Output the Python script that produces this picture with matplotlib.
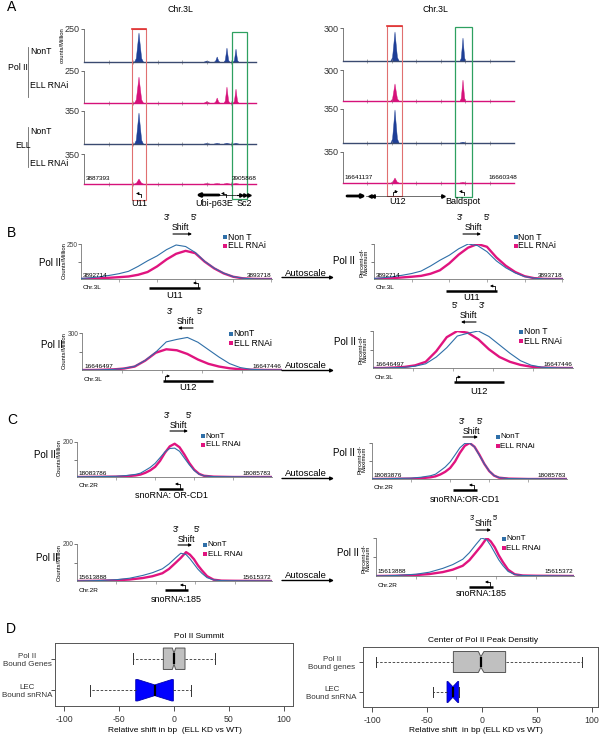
import numpy as np
import matplotlib
matplotlib.use('Agg')
import matplotlib.pyplot as plt
from matplotlib.patches import Rectangle

plt.rcParams['font.family'] = ['Liberation Sans', 'DejaVu Sans']

W, H = 602, 739
BLUE_FILL = '#1f3f96'
PINK_FILL = '#d6117a'
BLUE_LINE = '#2f6fa8'
PINK_LINE = '#e0147f'

# ---------------- Panel A data ----------------
a_left_range = [3887393, 3905868]
a_left_peaks = [3893300, 3900600, 3901700, 3902750, 3903720]
a_left_halfw = [480, 280, 300, 300, 280]
a_left_polII_nont = [220, 8, 38, 106, 98]
a_left_polII_ell = [203, 12, 39, 125, 109]
a_left_ell_nont = [329, 3, 4, 6, 5]
a_left_ell_ell = [58, 2, 2, 4, 3]
a_left_ymax = [250, 250, 350, 350]

a_right_range = [16641137, 16660348]
a_right_peaks = [16646979, 16654618]
a_right_halfw = [460, 320]
a_right_polII_nont = [264, 209]
a_right_polII_ell = [165, 203]
a_right_ell_nont = [340, 6]
a_right_ell_ell = [56, 3]
a_right_ymax = [300, 300, 350, 350]

# ---------------- Panel B / C data ----------------
u11_start = 3892714
u11_offsets = [0, 50, 100, 150, 200, 250, 300, 350, 400, 450, 500, 550, 600, 650,
               700, 750, 800, 850, 900, 950, 1004]
u11_nont = [4, 9, 16, 26, 38, 55, 90, 130, 165, 210, 243, 232, 190, 126, 78, 42, 17, 6, 1, 0, 0]
u11_ell = [0, 2, 5, 9, 13, 18, 30, 50, 90, 140, 180, 201, 185, 124, 76, 40, 16, 5, 1, 0, 0]
u11_labels = ['3892714', '3893718']

u12_start = 16646497
u12_offsets = [0, 50, 100, 150, 200, 250, 300, 350, 400, 450, 500, 550, 600, 650,
               700, 750, 800, 850, 900, 949]
u12_nont = [0, 0, 2, 5, 13, 30, 78, 145, 228, 248, 264, 225, 165, 105, 52, 20, 6, 2, 0, 0]
u12_ell = [0, 0, 2, 5, 12, 28, 76, 140, 168, 160, 130, 85, 50, 28, 14, 6, 2, 1, 0, 0]
u12_labels = ['16646497', '16647446']

orcd1_start = 18083786
orcd1_offsets = [0, 200, 400, 500, 600, 650, 700, 750, 800, 850, 900, 950, 1000, 1050,
                 1100, 1150, 1200, 1250, 1300, 1400, 1600, 1997]
orcd1_nont = [1, 2, 4, 8, 15, 22, 38, 55, 78, 110, 143, 163, 165, 147, 108, 70, 37, 16, 7, 2, 1, 0]
orcd1_ell = [0, 1, 2, 4, 9, 14, 24, 38, 58, 92, 138, 175, 190, 170, 128, 80, 42, 18, 7, 2, 0, 0]
orcd1_labels_l = ['18083786', '18085783']
orcd1_labels_r = ['18083876', '18085783']

s185_start = 15613888
s185_offsets = [0, 150, 300, 400, 500, 575, 650, 700, 750, 790, 830, 860, 890, 920, 950,
                990, 1040, 1100, 1200, 1484]
s185_nont = [0, 2, 7, 15, 30, 45, 66, 92, 125, 150, 143, 120, 92, 64, 42, 18, 6, 2, 1, 0]
s185_ell = [0, 1, 4, 8, 16, 26, 42, 65, 98, 125, 156, 142, 118, 85, 58, 26, 7, 2, 1, 0]
s185_labels = ['15613888', '15615372']

# ---------------- Panel D data ----------------
# whislo, q1, med, q3, whishi, cilo, cihi
summit_polII = [-37, -9.7, 0, 10, 37, -1.5, 1.5]
summit_lec = [-76.6, -34.8, -17.5, -0.6, 15.5, -33, -2]
center_polII = [-96.4, -26, -1, 21.5, 91, -3.3, 1.8]
center_lec = [-44.8, -31.8, -26.5, -21.2, -21.2, -31, -22]
d_xticks = [-100, -50, 0, 50, 100]

fig = plt.figure(figsize=(W / 100, H / 100), dpi=100)


def px_axes(x0, y0, x1, y1):
    ax = fig.add_axes([x0 / W, 1 - y1 / H, (x1 - x0) / W, (y1 - y0) / H])
    ax.patch.set_alpha(0)
    return ax


ov = fig.add_axes([0, 0, 1, 1], zorder=10)
ov.set_xlim(0, W)
ov.set_ylim(H, 0)
ov.axis('off')
ov.patch.set_alpha(0)


def T(x, y, s, fs=6.3, ha='center', va='center', **kw):
    ov.text(x, y, s, fontsize=fs, ha=ha, va=va, **kw)


# ---------------- Panel A ----------------
PEAK_X = [-1, -0.6, -0.3, 0, 0.3, 0.6, 1]
PEAK_Y = [0, 0.12, 0.55, 1, 0.55, 0.12, 0]


def draw_track(x0, x1, y0, y1, xr, centers, halfw, heights, ymax, fill, base):
    ax = px_axes(x0, y0, x1, y1)
    for c, w, h in zip(centers, halfw, heights):
        ax.fill([c + f * w for f in PEAK_X], [h * f for f in PEAK_Y], color=fill, lw=0.3,
                ec=fill)
    ax.set_xlim(*xr)
    ax.set_ylim(0, ymax)
    for s in ['top', 'right']:
        ax.spines[s].set_visible(False)
    ax.spines['left'].set_color('#666666')
    ax.spines['left'].set_linewidth(0.6)
    ax.spines['bottom'].set_color(base)
    ax.spines['bottom'].set_linewidth(1.0)
    ax.set_yticks([ymax])
    ax.set_yticklabels([str(ymax)])
    ax.tick_params(axis='y', length=2, width=0.5, labelsize=6.5, pad=1, colors='#333333')
    ax.set_xticks(np.linspace(xr[0], xr[1], 8)[1:-1])
    ax.set_xticklabels([])
    ax.tick_params(axis='x', length=3, width=0.5, direction='inout', color='#888888')
    return ax


left_rows = [(29, 62), (71, 103), (111, 144), (154, 184)]
right_rows = [(28, 61), (70, 101), (109, 143), (152, 183)]
left_sets = [a_left_polII_nont, a_left_polII_ell, a_left_ell_nont, a_left_ell_ell]
right_sets = [a_right_polII_nont, a_right_polII_ell, a_right_ell_nont, a_right_ell_ell]
fills = [BLUE_FILL, PINK_FILL, BLUE_FILL, PINK_FILL]
bases = ['#3a4a70', PINK_FILL, '#3a4a70', PINK_FILL]
for i in range(4):
    draw_track(84, 256, left_rows[i][0], left_rows[i][1], a_left_range, a_left_peaks,
               a_left_halfw, left_sets[i], a_left_ymax[i], fills[i], bases[i])
    draw_track(343, 514, right_rows[i][0], right_rows[i][1], a_right_range, a_right_peaks,
               a_right_halfw, right_sets[i], a_right_ymax[i], fills[i], bases[i])

T(12, 7, 'A', fs=10)
T(180, 9, 'Chr.3L', fs=6.3)
T(435, 9, 'Chr.3L', fs=6.3)
T(62, 45, 'counts/Million', fs=4.2, rotation=90)
T(30, 51, 'NonT', ha='left')
T(30, 85, 'ELL RNAi', ha='left')
T(8, 68, 'Pol II', ha='left')
T(30, 131, 'NonT', ha='left')
T(30, 164, 'ELL RNAi', ha='left')
T(15, 146, 'ELL', ha='left')
ov.plot([28, 28], [47, 97], color='#666666', lw=0.6)
ov.plot([28, 28], [127, 167], color='#666666', lw=0.6)
T(86, 181, '3887393', fs=4.6, ha='left', va='bottom')
T(257, 181, '3905868', fs=4.6, ha='right', va='bottom')
T(344, 180, '16641137', fs=4.6, ha='left', va='bottom')
T(517, 180, '16660348', fs=4.6, ha='right', va='bottom')

# highlight boxes
ov.add_patch(Rectangle((132, 29), 14, 171, fill=False, ec='#e07070', lw=0.8))
ov.plot([132, 146], [29, 29], color='#e03030', lw=1.2)
ov.add_patch(Rectangle((232, 32), 15, 167, fill=False, ec='#2ea060', lw=0.9))
ov.add_patch(Rectangle((387, 26), 15, 170, fill=False, ec='#e07070', lw=0.8))
ov.plot([387, 402], [26, 26], color='#e03030', lw=1.2)
ov.add_patch(Rectangle((455, 27), 17, 170, fill=False, ec='#2ea060', lw=0.9))


def bent(x, y, d, h=3.5, lw=0.6):
    ov.plot([x, x, x + d * 3], [y, y - h, y - h], color='k', lw=lw)
    ov.annotate('', xy=(x + d * 5, y - h), xytext=(x + d * 2, y - h),
                arrowprops=dict(arrowstyle='-|>', lw=lw, color='k', mutation_scale=3.5,
                                shrinkA=0, shrinkB=0))


# gene annotation A left
bent(141, 197, -1)
ov.annotate('', xy=(196, 195), xytext=(219, 195),
            arrowprops=dict(arrowstyle='-|>', lw=2.0, color='k', mutation_scale=5,
                            shrinkA=0, shrinkB=0))
ov.plot([219, 236], [195, 195], color='k', lw=0.5)
bent(226, 197, -1)
ov.plot([237, 250], [195, 195], color='k', lw=0.8)
ov.plot([241, 245, 249], [195, 195, 195], ls='none', marker='>', ms=2.5, color='k')
T(139, 204, 'U11', fs=6.5)
T(214, 204, 'Ubi-p63E', fs=6.5)
T(244, 204, 'Sc2', fs=6.5)
# gene annotation A right
ov.annotate('', xy=(366, 196), xytext=(347, 196),
            arrowprops=dict(arrowstyle='-|>', lw=2.0, color='k', mutation_scale=5,
                            shrinkA=0, shrinkB=0))
ov.plot([366, 443], [196, 196], color='k', lw=0.4)
ov.plot([370, 373], [196, 196], ls='none', marker='<', ms=2.5, color='k')
ov.plot([443], [196], ls='none', marker='>', ms=2.5, color='k')
bent(393, 195, 1)
bent(464, 195, -1)
T(398, 202, 'U12', fs=6.5)
T(463, 202, 'Baldspot', fs=6.5)


# ---------------- Panels B / C ----------------
def draw_profile(x0, y0, x1, y1, start, offsets, nont, ell, ymax, percent, labels,
                 chrom, tickstep):
    ax = px_axes(x0, y0, x1, y1)
    xs = [start + o for o in offsets]
    b = np.array(nont, float)
    p = np.array(ell, float)
    if percent:
        b = 100 * b / b.max()
        p = 100 * p / p.max()
    ax.plot(xs, b, color=BLUE_LINE, lw=0.8, zorder=3)
    ax.plot(xs, p, color=PINK_LINE, lw=1.7, zorder=2)
    ax.set_xlim(start, start + offsets[-1])
    ax.set_ylim(0, ymax)
    for s in ['top', 'right']:
        ax.spines[s].set_visible(False)
    for s in ['left', 'bottom']:
        ax.spines[s].set_color('#777777')
        ax.spines[s].set_linewidth(0.6)
    if percent:
        ax.set_yticks([50, 100])
        ax.set_yticklabels([])
    else:
        ax.set_yticks([ymax / 2, ymax])
        ax.set_yticklabels(['', str(ymax)])
    ax.tick_params(axis='y', length=2, width=0.5, labelsize=4.8, pad=0.5, colors='#444444')
    ax.set_xticks(np.arange(start + tickstep, start + offsets[-1], tickstep))
    ax.set_xticklabels([])
    ax.tick_params(axis='x', length=2.5, width=0.5, color='#888888')
    ax.text(0.01, 0.04, labels[0], transform=ax.transAxes, fontsize=4.6, ha='left', va='bottom')
    ax.text(0.995, 0.04, labels[1], transform=ax.transAxes, fontsize=4.6, ha='right', va='bottom')
    ax.text(0.01, -0.18, chrom, transform=ax.transAxes, fontsize=4.6, ha='left', va='top')
    return ax


def legend(x, y1, y2, t1, t2, fs=6.2):
    for yy, tt, cc in [(y1, t1, BLUE_LINE), (y2, t2, PINK_LINE)]:
        ov.add_patch(Rectangle((x - 1.8, yy - 1.6), 3.4, 3.4, color=cc, lw=0))
        T(x + 2.5, yy, tt, fs=fs, ha='left')


def shift(xa, xb, y, left, right, ax_from, ax_to, fs=6.3):
    T(xa, y, left, fs=fs)
    T(xb, y, right, fs=fs)
    T((xa + xb) / 2, y + 10, 'Shift', fs=fs)
    ov.annotate('', xy=(ax_to, y + 16), xytext=(ax_from, y + 16),
                arrowprops=dict(arrowstyle='-|>', lw=0.8, color='k', mutation_scale=4,
                                shrinkA=0, shrinkB=0))


def gene(x0, x1, y, label, ly, arrow_x, d, fs=6.8):
    ov.plot([x0, x1], [y, y], color='k', lw=1.8, solid_capstyle='butt')
    bent(arrow_x, y - 1.5, d)
    T((x0 + x1) / 2, ly, label, fs=fs)


def autoscale(y):
    T(306, y - 3, 'Autoscale', fs=6.8)
    ov.annotate('', xy=(334, y + 1.5), xytext=(282, y + 1.5),
                arrowprops=dict(arrowstyle='-|>', lw=1.0, color='k', mutation_scale=5,
                                shrinkA=0, shrinkB=0))


T(12, 233, 'B', fs=10)
T(12, 420, 'C', fs=10)

# B top
draw_profile(81, 244, 272, 279, u11_start, u11_offsets, u11_nont, u11_ell, 250, False,
             u11_labels, 'Chr.3L', 200)
draw_profile(374, 244, 563, 279, u11_start, u11_offsets, u11_nont, u11_ell, 100, True,
             u11_labels, 'Chr.3L', 200)
# B bottom
draw_profile(82, 333, 282, 370, u12_start, u12_offsets, u12_nont, u12_ell, 300, False,
             u12_labels, 'Chr.3L', 190)
draw_profile(373, 331, 573, 368, u12_start, u12_offsets, u12_nont, u12_ell, 100, True,
             u12_labels, 'Chr.3L', 190)
# C top
draw_profile(77, 442, 272, 477, orcd1_start, orcd1_offsets, orcd1_nont, orcd1_ell, 200, False,
             orcd1_labels_l, 'Chr.2R', 400)
draw_profile(372, 443, 567, 479, orcd1_start, orcd1_offsets, orcd1_nont, orcd1_ell, 100, True,
             orcd1_labels_r, 'Chr.2R', 400)
# C bottom
draw_profile(77, 544, 272, 581, s185_start, s185_offsets, s185_nont, s185_ell, 200, False,
             s185_labels, 'Chr.2R', 300)
draw_profile(376, 538, 574, 576, s185_start, s185_offsets, s185_nont, s185_ell, 100, True,
             s185_labels, 'Chr.2R', 300)

# Pol II labels and y labels
for (x, y) in [(50, 263), (52, 345), (45, 455), (47, 558)]:
    T(x, y, 'Pol II', fs=7)
for (x, y) in [(344, 261), (345, 342), (344, 453), (348, 553)]:
    T(x, y, 'Pol II', fs=7)
for (x, y) in [(64, 261), (64, 351), (59, 458), (59, 563)]:
    T(x, y, 'Counts/Million', fs=4.2, rotation=90)
for (x, y) in [(364, 262), (363, 349), (362, 459), (366, 558)]:
    T(x, y, 'Percent-of-\nMaximum', fs=4.2, rotation=90, linespacing=0.95)

legend(225, 237, 246, 'Non T', 'ELL RNAi')
legend(516, 237, 246, 'Non T', 'ELL RNAi')
legend(231, 334, 343, 'NonT', 'ELL RNAi')
legend(521, 332, 341, 'Non T', 'ELL RNAi')
legend(203, 436, 445, 'NonT', 'ELL RNAi', fs=5.8)
legend(498, 437, 446, 'NonT', 'ELL RNAi', fs=5.8)
legend(205, 545, 554, 'NonT', 'ELL RNAi', fs=5.8)
legend(504, 539, 548, 'NonT', 'ELL RNAi', fs=5.8)

shift(167, 194, 218, "3'", "5'", 173, 192)
shift(460, 487, 218, "3'", "5'", 463, 481)
shift(170, 200, 312, "3'", "5'", 193, 178)
shift(455, 482, 306, "5'", "3'", 476, 461)
shift(167, 189, 415, "3'", "5'", 170, 188)
shift(462, 480, 421, "3'", "5'", 463, 478)
shift(176, 197, 529, "3'", "5'", 178, 192)
T(472, 518, "3'", fs=5)
T(495, 518, "5'", fs=5)
T(483, 524, 'Shift', fs=6.3)
ov.annotate('', xy=(491, 530), xytext=(476, 530),
            arrowprops=dict(arrowstyle='-|>', lw=0.8, color='k', mutation_scale=4,
                            shrinkA=0, shrinkB=0))

gene(149, 200, 288, 'U11', 295, 198, -1)
gene(446, 497, 291, 'U11', 298, 495, -1)
gene(163, 213, 381, 'U12', 388, 165, 1)
gene(454, 504, 382, 'U12', 392, 456, 1)
gene(159, 183, 489, 'snoRNA: OR-CD1', 496, 180, -1, fs=6.5)
gene(453, 477, 490, 'snoRNA:OR-CD1', 499, 474, -1, fs=6.5)
gene(165, 188, 590, 'snoRNA:185', 599, 185, -1, fs=6.5)
gene(469, 493, 587, 'snoRNA:185', 594, 490, -1, fs=6.5)

for y in [276, 369, 477, 579]:
    autoscale(y)

# ---------------- Panel D ----------------
T(11, 629, 'D', fs=10)


def stats_of(v):
    return dict(whislo=v[0], q1=v[1], med=v[2], q3=v[3], whishi=v[4], cilo=v[5], cihi=v[6],
                fliers=[])


def draw_box(x0, y0, x1, y1, xlim, polII, lec, title, ylabels, xlabel, tx, lx, width, ypad):
    ax = px_axes(x0, y0, x1, y1)
    bp = ax.bxp([stats_of(lec), stats_of(polII)], positions=[1, 2], widths=width,
                orientation='horizontal', patch_artist=True, shownotches=True,
                showfliers=False,
                whiskerprops=dict(linestyle=(0, (3, 2)), lw=0.6, color='#333333'),
                capprops=dict(lw=0.7, color='#333333'),
                medianprops=dict(lw=1.6, color='black'))
    bp['boxes'][0].set_facecolor('#0000ff')
    bp['boxes'][0].set_edgecolor('#0000aa')
    bp['boxes'][0].set_linewidth(0.6)
    bp['boxes'][1].set_facecolor('#c0c0c0')
    bp['boxes'][1].set_edgecolor('#555555')
    bp['boxes'][1].set_linewidth(0.7)
    ax.set_xlim(*xlim)
    ax.set_ylim(0.5, 2.5)
    ax.set_xticks(d_xticks)
    ax.set_xticklabels([str(t) for t in d_xticks])
    ax.set_yticks([1, 2])
    ax.set_yticklabels(ylabels)
    for s in ax.spines.values():
        s.set_color('#555555')
        s.set_linewidth(0.7)
    ax.tick_params(axis='x', length=3.5, width=0.6, labelsize=6.3, pad=3, colors='#333333')
    ax.tick_params(axis='y', length=3, width=0.6, labelsize=5.8, pad=ypad, colors='#333333')
    for lab in ax.get_yticklabels():
        lab.set_horizontalalignment('center')
        lab.set_multialignment('center')
    T(tx, y0 - 6, title, fs=6)
    T(lx, 730, xlabel, fs=6)
    return ax


draw_box(55, 643, 293, 706, (-108.2, 108.2), summit_polII, summit_lec, 'Pol II Summit',
         ['LEC\nBound snRNA', 'Pol II\nBound Genes'],
         'Relative shift in bp  (ELL KD vs WT)', 199, 175, 0.68, 17)
draw_box(363, 647, 598, 707, (-108.2, 105.5), center_polII, center_lec,
         'Center of Pol II Peak Densitiy',
         ['LEC\nBound snRNA', 'Pol II\nBound genes'],
         'Relative shift  in bp (ELL KD vs WT)', 483, 476, 0.70, 19.5)

fig.savefig('out.png', dpi=100)
